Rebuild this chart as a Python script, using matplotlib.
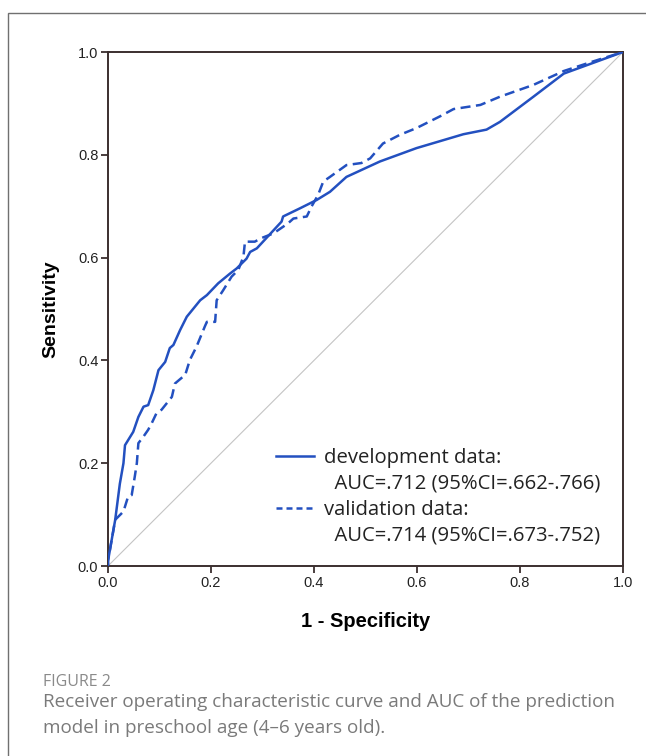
import matplotlib
matplotlib.use("Agg")
import matplotlib.pyplot as plt
from matplotlib.lines import Line2D
from matplotlib.patches import Rectangle

# ---- data ----
dev_fpr = [0.0, 0.0, 0.007, 0.014, 0.023, 0.030, 0.033, 0.049, 0.059, 0.069, 0.078,
           0.088, 0.098, 0.111, 0.120, 0.127, 0.140, 0.153, 0.166, 0.179, 0.192,
           0.214, 0.237, 0.250, 0.260, 0.269, 0.276, 0.289, 0.337, 0.340, 0.373,
           0.405, 0.431, 0.463, 0.528, 0.599, 0.690, 0.735, 0.761, 0.826, 0.885, 1.0]
dev_tpr = [0.0, 0.01, 0.05, 0.09, 0.16, 0.20, 0.235, 0.261, 0.29, 0.31, 0.313,
           0.342, 0.381, 0.397, 0.424, 0.43, 0.459, 0.485, 0.501, 0.517, 0.527,
           0.55, 0.569, 0.579, 0.589, 0.598, 0.611, 0.618, 0.670, 0.68, 0.696,
           0.712, 0.728, 0.757, 0.787, 0.813, 0.840, 0.849, 0.864, 0.913, 0.958, 1.0]

val_fpr = [0.0, 0.0, 0.007, 0.014, 0.030, 0.039, 0.046, 0.052, 0.056, 0.059, 0.069, 0.078,
           0.085, 0.094, 0.104, 0.124, 0.130, 0.150, 0.159, 0.172, 0.188, 0.192,
           0.208, 0.211, 0.224, 0.240, 0.253, 0.263, 0.266, 0.285, 0.298, 0.321,
           0.340, 0.350, 0.360, 0.386, 0.395, 0.408, 0.418, 0.431, 0.463, 0.492,
           0.509, 0.534, 0.567, 0.599, 0.645, 0.671, 0.723, 0.761, 0.826, 0.885,
           0.943, 1.0]
val_tpr = [0.0, 0.01, 0.05, 0.09, 0.106, 0.135, 0.138, 0.174, 0.20, 0.239, 0.252, 0.265,
           0.278, 0.297, 0.304, 0.329, 0.355, 0.372, 0.401, 0.427, 0.466, 0.475,
           0.475, 0.517, 0.537, 0.563, 0.576, 0.602, 0.631, 0.631, 0.638, 0.647,
           0.660, 0.667, 0.676, 0.680, 0.699, 0.722, 0.748, 0.757, 0.780, 0.784,
           0.793, 0.822, 0.839, 0.852, 0.875, 0.889, 0.897, 0.913, 0.936, 0.963,
           0.982, 1.0]

ref_line = [0.0, 1.0]
ticks = [0.0, 0.2, 0.4, 0.6, 0.8, 1.0]
tick_labels = ["0.0", "0.2", "0.4", "0.6", "0.8", "1.0"]
labels = ["development data:", "  AUC=.712 (95%CI=.662-.766)",
          "validation data:", "  AUC=.714 (95%CI=.673-.752)"]
caption_title = "FIGURE 2"
caption_lines = ["Receiver operating characteristic curve and AUC of the prediction",
                 "model in preschool age (4\u20136 years old)."]

W, H = 646, 756
fig = plt.figure(figsize=(W / 100, H / 100), dpi=100)
fig.patch.set_facecolor("white")

# outer frame (clipped on right and bottom)
fig.add_artist(Rectangle((8 / W, -0.05), 1.2, (H - 13) / H + 0.05, transform=fig.transFigure,
                         fill=False, edgecolor="#707070", linewidth=1.0))

ax = fig.add_axes([108 / W, 1 - 566 / H, (623 - 108) / W, (566 - 52) / H])
blue = "#2350c0"
ax.plot(ref_line, ref_line, color="#c4c4c4", linewidth=0.8, zorder=1)
ax.plot(dev_fpr, dev_tpr, color=blue, linewidth=1.8, solid_joinstyle="round", zorder=3)
ax.plot(val_fpr, val_tpr, color=blue, linewidth=1.8, linestyle=(0, (4.0, 2.2)), zorder=2)

ax.set_xlim(0, 1)
ax.set_ylim(0, 1)
ax.set_xticks(ticks)
ax.set_xticklabels(tick_labels)
ax.set_yticks(ticks)
ax.set_yticklabels(tick_labels)
for s in ax.spines.values():
    s.set_color("#3b2f2f")
    s.set_linewidth(1.4)
ax.tick_params(axis="both", direction="out", length=5, width=1.3, color="#3b2f2f",
               labelsize=10.5, labelcolor="#222222", pad=2)
for lab in ax.get_xticklabels() + ax.get_yticklabels():
    lab.set_family("Liberation Sans")

ax.set_xlabel("1 - Specificity", fontsize=14.5, fontweight="bold", family="Liberation Sans",
              labelpad=16)
ax.set_ylabel("Sensitivity", fontsize=14, fontweight="bold", family="Liberation Sans",
              labelpad=13)

handles = [Line2D([], [], color=blue, linewidth=1.8),
           Line2D([], [], color="none"),
           Line2D([], [], color=blue, linewidth=1.8, linestyle=(0, (2.4, 1.6))),
           Line2D([], [], color="none")]
leg = ax.legend(handles, labels, loc="lower right", bbox_to_anchor=(0.992, 0.004),
                frameon=False, handlelength=1.9, handletextpad=0.5, labelspacing=0.29,
                prop={"family": "Open Sans", "size": 14.6})
for t in leg.get_texts():
    t.set_color("#222222")

fig.text(43 / W, 1 - 682 / H, caption_title, fontsize=11.5, color="#8a8a8a",
         family="Open Sans", va="center", ha="left")
fig.text(43 / W, 1 - 702 / H, caption_lines[0], fontsize=13.6, color="#7a7a7a",
         family="Open Sans", va="center", ha="left")
fig.text(43 / W, 1 - 728 / H, caption_lines[1], fontsize=13.6, color="#7a7a7a",
         family="Open Sans", va="center", ha="left")

fig.savefig("out.png", dpi=100, facecolor="white")
